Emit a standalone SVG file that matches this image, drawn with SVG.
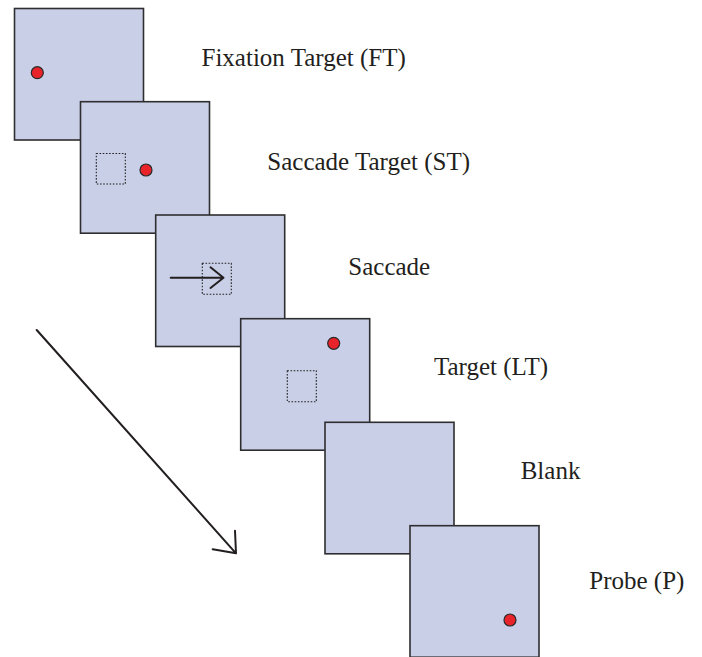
<svg xmlns="http://www.w3.org/2000/svg" width="702" height="657" viewBox="0 0 702 657">
  <style>
    .panel { fill: #c9cfe7; stroke: #2e2e30; stroke-width: 1.6; }
    .dot { fill: #e8232a; stroke: #2a2a2a; stroke-width: 1.2; }
    .box { fill: none; stroke: #222; stroke-width: 1.1; stroke-dasharray: 1.6 1.6; }
    .label { font-family: "Liberation Serif", "Times New Roman", serif; font-size: 25px; fill: #231f20; }
    .line { fill: none; stroke: #231f20; stroke-width: 2; stroke-linecap: round; stroke-linejoin: round; }
  </style>
  <rect width="702" height="657" fill="#ffffff"/>

  <g id="fixation-target">
    <rect class="panel" x="14.5" y="8.5" width="129" height="131.5"/>
    <circle class="dot" cx="37.3" cy="72.7" r="6"/>
    <text class="label" x="201.5" y="65.5">Fixation Target (FT)</text>
  </g>

  <g id="saccade-target">
    <rect class="panel" x="80.5" y="101.7" width="129" height="131.5"/>
    <rect class="box" x="96.3" y="153.5" width="29" height="30.5"/>
    <circle class="dot" cx="146" cy="170" r="6"/>
    <text class="label" x="267.3" y="170">Saccade Target (ST)</text>
  </g>

  <g id="saccade">
    <rect class="panel" x="155.7" y="215" width="129" height="131.5"/>
    <rect class="box" x="202.3" y="263.3" width="29" height="31"/>
    <path class="line" d="M170.7 277.7 H223.5 M210.5 267.3 L223.5 277.7 L210.5 288"/>
    <text class="label" x="348.3" y="275">Saccade</text>
  </g>

  <g id="landing-target">
    <rect class="panel" x="240.7" y="318.7" width="129" height="131.5"/>
    <rect class="box" x="287.3" y="370.7" width="29" height="31"/>
    <circle class="dot" cx="333.7" cy="343.3" r="6"/>
    <text class="label" x="434" y="375">Target (LT)</text>
  </g>

  <g id="blank">
    <rect class="panel" x="325" y="422.3" width="129" height="131.5"/>
    <text class="label" x="520.7" y="479">Blank</text>
  </g>

  <g id="probe">
    <rect class="panel" x="410" y="525.7" width="129" height="131.5"/>
    <circle class="dot" cx="510" cy="620" r="6"/>
    <text class="label" x="589.3" y="589">Probe (P)</text>
  </g>

  <g id="connectors">
    <path class="line" d="M36.7 330 L236 553.3 M212.7 549.3 L236 553.3 L235 530.7"/>
  </g>
</svg>
